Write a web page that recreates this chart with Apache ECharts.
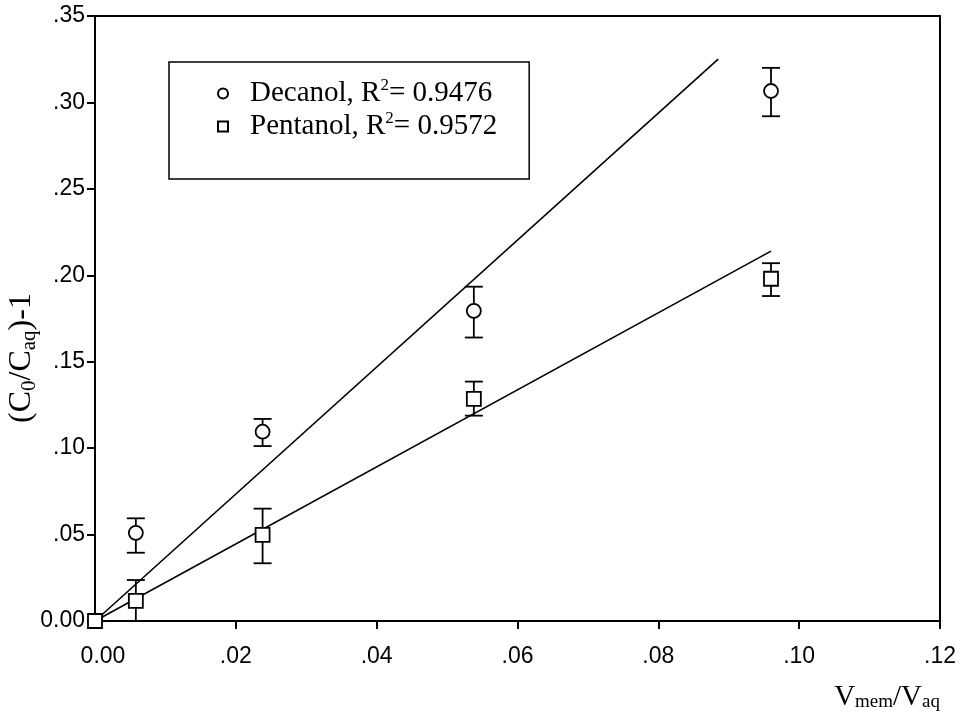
<!DOCTYPE html>
<html>
<head>
<meta charset="utf-8">
<script src="https://cdn.jsdelivr.net/npm/echarts@6/dist/echarts.min.js"></script>
<style>html,body{margin:0;padding:0;background:#fff;}#chart{width:967px;height:719px;}</style>
</head>
<body>
<div id="chart"></div>
<script>
// ---- data ----
const xVals = [0, 0.0058, 0.0238, 0.0538, 0.096];
const decanolY = [0, 0.051, 0.1095, 0.1794, 0.3066];
const decanolErrLow = [0, 0.0395, 0.1012, 0.164, 0.292];
const decanolErrHigh = [0, 0.0594, 0.1169, 0.1934, 0.320];
const pentanolY = [0, 0.0117, 0.0498, 0.1285, 0.198];
const pentanolErrLow = [0, 0, 0.0334, 0.1188, 0.188];
const pentanolErrHigh = [0, 0.0237, 0.065, 0.1385, 0.207];
const decanolFitX = [0, 0.0885];
const decanolFitY = [0, 0.325];
const pentanolFitX = [0, 0.096];
const pentanolFitY = [0, 0.214];
const decanolR2 = '0.9476';
const pentanolR2 = '0.9572';
const xTicks = { min: 0, max: 0.12, interval: 0.02 };
const yTicks = { min: 0, max: 0.35, interval: 0.05 };

const SERIF = 'Liberation Serif, Times New Roman, serif';
const SANS = 'Liberation Sans, Arial, sans-serif';

function pts(xs, ys) { return xs.map((x, i) => [x, ys[i]]); }
function errs(xs, lo, hi) {
  const out = [];
  xs.forEach((x, i) => { if (hi[i] > lo[i]) out.push([x, lo[i], hi[i]]); });
  return out;
}
function fmt(v) {
  if (Math.abs(v) < 1e-9) return '0.00';
  return '.' + Math.round(v * 100).toString().padStart(2, '0');
}
function fmtX(v) {
  if (Math.abs(v) < 1e-9) return '{z|0.00}';
  return fmt(v);
}
function errRender(params, api) {
  const x = api.value(0), lo = api.value(1), hi = api.value(2);
  const a = api.coord([x, lo]), b = api.coord([x, hi]);
  const w = 9;
  const st = { stroke: '#000', lineWidth: 1.8 };
  return {
    type: 'group',
    children: [
      { type: 'line', shape: { x1: a[0], y1: a[1], x2: b[0], y2: b[1] }, style: st },
      { type: 'line', shape: { x1: b[0] - w, y1: b[1], x2: b[0] + w, y2: b[1] }, style: st },
      { type: 'line', shape: { x1: a[0] - w, y1: a[1], x2: a[0] + w, y2: a[1] }, style: st }
    ]
  };
}

const chart = echarts.init(document.getElementById('chart'));
const symStyle = { color: '#fff', borderColor: '#000', borderWidth: 1.8, opacity: 1 };
const r2 = { Decanol: decanolR2, Pentanol: pentanolR2 };

chart.setOption({
  animation: false,
  backgroundColor: '#fff',
  grid: {
    left: 95, right: 27, top: 16, bottom: 98, containLabel: false, outerBoundsMode: 'none',
    show: true, borderColor: '#000', borderWidth: 2, backgroundColor: 'transparent'
  },
  legend: {
    orient: 'vertical', left: 169, top: 62,
    borderColor: '#000', borderWidth: 1.5,
    padding: [15, 32, 36, 48],
    itemWidth: 10, itemHeight: 10, itemGap: 0,
    data: [{ name: 'Decanol', icon: 'circle' }, { name: 'Pentanol', icon: 'rect' }],
    formatter: n => n + ', R{sup|2}= ' + r2[n],
    textStyle: {
      fontFamily: SERIF, fontSize: 29, color: '#000', lineHeight: 33, padding: [0, 0, 0, 17],
      rich: { sup: { fontFamily: SERIF, fontSize: 17, verticalAlign: 'top', lineHeight: 14, color: '#000' } }
    }
  },
  xAxis: {
    type: 'value', min: xTicks.min, max: xTicks.max, interval: xTicks.interval,
    splitLine: { show: false },
    axisLine: { show: true, onZero: false, lineStyle: { color: '#000', width: 2 } },
    axisTick: { show: true, length: 8, lineStyle: { color: '#000', width: 2 } },
    axisLabel: {
      margin: 24, fontFamily: SANS, fontSize: 23, color: '#000', formatter: fmtX,
      rich: { z: { fontFamily: SANS, fontSize: 23, color: '#000', padding: [0, 0, 0, 16] } }
    }
  },
  yAxis: {
    type: 'value', min: yTicks.min, max: yTicks.max, interval: yTicks.interval,
    splitLine: { show: false },
    axisLine: { show: true, onZero: false, lineStyle: { color: '#000', width: 2 } },
    axisTick: { show: true, length: 8, lineStyle: { color: '#000', width: 2 } },
    axisLabel: { margin: 10, fontFamily: SANS, fontSize: 23, color: '#000', formatter: fmt }
  },
  graphic: [{
    type: 'text', x: 22, y: 358, rotation: Math.PI / 2,
    style: {
      text: '(C{sub|0}/C{sub|aq})-1',
      font: '32px ' + SERIF, fill: '#000', align: 'center', verticalAlign: 'middle', lineHeight: 35,
      rich: { sub: { fontFamily: SERIF, fontSize: 21, verticalAlign: 'bottom', lineHeight: 17, fill: '#000' } }
    }
  }, {
    type: 'text', right: 27, top: 683,
    style: {
      text: 'V{sub|mem}/V{sub|aq}',
      font: '29px ' + SERIF, fill: '#000',
      rich: { sub: { fontFamily: SERIF, fontSize: 19, verticalAlign: 'bottom', lineHeight: 16, fill: '#000' } }
    }
  }],
  series: [
    { type: 'line', data: pts(decanolFitX, decanolFitY), symbol: 'none', lineStyle: { color: '#000', width: 1.6 }, silent: true, z: 1 },
    { type: 'line', data: pts(pentanolFitX, pentanolFitY), symbol: 'none', lineStyle: { color: '#000', width: 1.6 }, silent: true, z: 1 },
    { type: 'custom', data: errs(xVals, decanolErrLow, decanolErrHigh), renderItem: errRender, z: 2 },
    { type: 'custom', data: errs(xVals, pentanolErrLow, pentanolErrHigh), renderItem: errRender, z: 2 },
    { name: 'Decanol', type: 'scatter', data: pts(xVals, decanolY), symbol: 'circle', symbolSize: 14, itemStyle: symStyle, z: 3 },
    { name: 'Pentanol', type: 'scatter', data: pts(xVals, pentanolY), symbol: 'rect', symbolSize: 14, itemStyle: symStyle, z: 4 }
  ]
});
</script>
</body>
</html>
